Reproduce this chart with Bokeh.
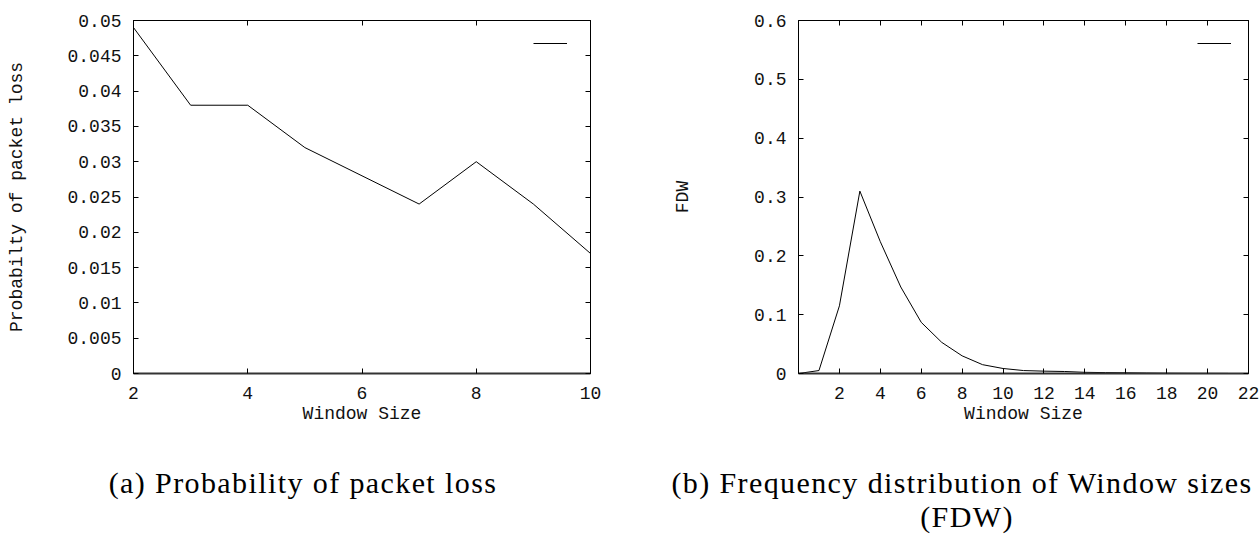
from bokeh.plotting import figure
from bokeh.models import (FixedTicker, LinearAxis, Range1d, Div, Legend,
                          LegendItem, CustomJSTickFormatter)
from bokeh.layouts import row, column
from bokeh.embed import file_html
from bokeh.resources import INLINE

# ---------------- data ----------------
loss_window = [2, 3, 4, 5, 6, 7, 8, 9, 10]
loss_prob = [0.049, 0.038, 0.038, 0.032, 0.028, 0.024, 0.030, 0.024, 0.017]
loss_xticks = [2, 4, 6, 8, 10]
loss_yticks = [0, 0.005, 0.01, 0.015, 0.02, 0.025, 0.03, 0.035, 0.04, 0.045, 0.05]
loss_ytick_labels = ["0", "0.005", "0.01", "0.015", "0.02", "0.025", "0.03",
                     "0.035", "0.04", "0.045", "0.05"]

fdw_window = [0, 1, 2, 3, 4, 5, 6, 7, 8, 9, 10, 11, 12, 13, 14, 15, 16, 17, 18, 19, 20, 21]
fdw_freq = [0.0, 0.005, 0.115, 0.310, 0.224, 0.147, 0.087, 0.053, 0.030, 0.015,
            0.0085, 0.005, 0.004, 0.0034, 0.002, 0.0015, 0.0012, 0.0008, 0.0005,
            0.0003, 0.0002, 0.0001]
fdw_xticks = [2, 4, 6, 8, 10, 12, 14, 16, 18, 20, 22]
fdw_yticks = [0, 0.1, 0.2, 0.3, 0.4, 0.5, 0.6]
fdw_ytick_labels = ["0", "0.1", "0.2", "0.3", "0.4", "0.5", "0.6"]

x_label = "Window Size"
y_label_a = "Probabilty of packet loss"
y_label_b = "FDW"
caption_a = ["(a) Probability of packet loss"]
caption_b = ["(b) Frequency distribution of Window sizes", "(FDW)"]

MONO = "Liberation Mono"
SERIF = "Liberation Serif"
BLANK = CustomJSTickFormatter(code="return ''")


def style_axis(ax, ticks, labels=None, show_labels=True):
    ax.ticker = FixedTicker(ticks=ticks)
    ax.major_tick_in = 5
    ax.major_tick_out = 0
    ax.minor_tick_line_color = None
    ax.axis_line_color = "black"
    ax.major_tick_line_color = "black"
    ax.major_label_text_font = MONO
    ax.major_label_text_color = "#111111"
    if show_labels:
        ax.major_label_text_font_size = "18px"
        if labels is not None:
            ax.major_label_overrides = dict(zip(ticks, labels))
    else:
        ax.formatter = BLANK
        ax.major_label_text_font_size = "1px"
        ax.major_label_standoff = 0


def panel(xs, ys, xr, yr, xticks, yticks, ylabels, ylabel,
          border_left, frame_w, border_right, ylabel_standoff,
          leg_margin, leg_glyph_h, leg_standoff):
    p = figure(output_backend="svg", toolbar_location=None,
               frame_width=frame_w, frame_height=353,
               min_border_left=border_left, min_border_right=border_right,
               min_border_top=20, min_border_bottom=77,
               x_range=Range1d(*xr), y_range=Range1d(*yr),
               background_fill_color="white", border_fill_color="white",
               margin=0)
    p.xgrid.visible = False
    p.ygrid.visible = False
    p.outline_line_color = "black"

    style_axis(p.xaxis[0], xticks)
    style_axis(p.yaxis[0], yticks, ylabels)
    p.xaxis[0].axis_line_width = 2
    p.xaxis[0].axis_line_color = "#333333"
    p.xaxis[0].major_label_standoff = 13
    p.yaxis[0].major_label_standoff = 12
    for ax, lab, st in ((p.xaxis[0], x_label, 2), (p.yaxis[0], ylabel, ylabel_standoff)):
        ax.axis_label = lab
        ax.axis_label_text_font = MONO
        ax.axis_label_text_font_size = "18px"
        ax.axis_label_text_font_style = "normal"
        ax.axis_label_text_color = "#111111"
        ax.axis_label_standoff = st

    top = LinearAxis()
    style_axis(top, xticks, show_labels=False)
    p.add_layout(top, "above")
    right = LinearAxis()
    style_axis(right, yticks, show_labels=False)
    p.add_layout(right, "right")

    r = p.line(xs, ys, line_color="black", line_width=1)
    leg = Legend(items=[LegendItem(label=" ", renderers=[r])],
                 location="top_right", border_line_color=None,
                 background_fill_alpha=0, glyph_width=34,
                 glyph_height=leg_glyph_h, label_standoff=leg_standoff,
                 label_width=0, label_height=0,
                 margin=leg_margin, padding=0,
                 label_text_font=MONO, label_text_font_size="8px")
    p.add_layout(leg)
    return p


def caption(lines, shifts):
    parts = []
    for line, s in zip(lines, shifts):
        parts.append('<div style="position:relative; left:%dpx; width:630px; '
                     'height:34px; text-align:center; white-space:nowrap;">%s</div>'
                     % (s, line))
    html = ('<div style="position:absolute; left:0px; top:16px; color:black; '
            "font-family:'Liberation Serif'; font-size:30px; line-height:34px; "
            'letter-spacing:1.4px;">' + "".join(parts) + "</div>")
    return Div(width=630, height=89, margin=0, text=html,
               styles={"position": "relative", "overflow": "visible"})


pa = panel(loss_window, loss_prob, (2, 10), (0, 0.05), loss_xticks, loss_yticks,
           loss_ytick_labels, y_label_a, 133, 457, 40, 37, 10, 26, 13)
pb = panel(fdw_window, fdw_freq, (0, 22), (0, 0.6), fdw_xticks, fdw_yticks,
           fdw_ytick_labels, y_label_b, 168, 450, 12, 58, 6, 34, 11)

layout = row(column(pa, caption(caption_a, [-12]), spacing=0, margin=0),
             column(pb, caption(caption_b, [17, 22]), spacing=0, margin=0),
             spacing=0, margin=0)
open("out.html", "w").write(file_html(layout, INLINE))
